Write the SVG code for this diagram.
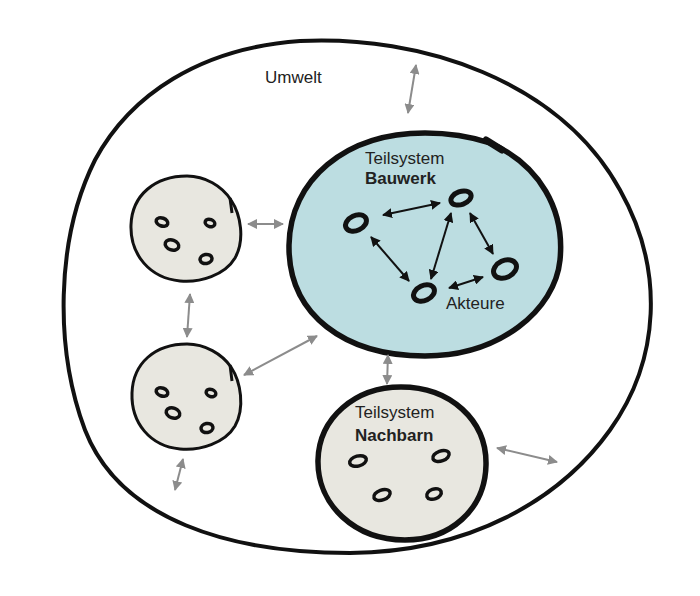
<svg xmlns="http://www.w3.org/2000/svg" width="700" height="596" viewBox="0 0 700 596">
<defs>
<marker id="ga" viewBox="0 0 10 10" refX="9" refY="5" markerWidth="5" markerHeight="5" orient="auto-start-reverse"><path d="M0,0 L10,5 L0,10 z" fill="#8c8c8c"/></marker>
<marker id="ba" viewBox="0 0 10 10" refX="9" refY="5" markerWidth="5" markerHeight="5" orient="auto-start-reverse"><path d="M0,0 L10,5 L0,10 z" fill="#111"/></marker>
</defs>
<style>
.outline{fill:none;stroke:#111;stroke-width:4;stroke-linecap:round}
.sub{fill:#e8e7e0;stroke:#111;stroke-width:3}
.bau{fill:#bcdde1;stroke:#111;stroke-width:5.5}
.nach{fill:#e8e7e0;stroke:#111;stroke-width:5.5}
.g{stroke:#8c8c8c;stroke-width:2;fill:none;marker-start:url(#ga);marker-end:url(#ga)}
.b{stroke:#111;stroke-width:2;fill:none;marker-start:url(#ba);marker-end:url(#ba)}
.ov{fill:none;stroke:#111;stroke-width:5}
.ovs{fill:none;stroke:#111;stroke-width:3.5}
text{font-family:"Liberation Sans",Arial,sans-serif;font-size:17px;fill:#222}
.bold{font-weight:bold}
</style>
<rect width="700" height="596" fill="#fff"/>
<g id="umwelt">
<path class="outline" d="M300,41 C420,35 560,80 620,190 C665,270 660,360 610,430 C560,500 470,552 350,553 C230,553 120,520 85,430 C55,350 55,240 95,160 C130,95 200,48 300,41 Z"/>
<text x="265" y="83">Umwelt</text>
</g>
<g id="bauwerk">
<path class="bau" d="M490,143 C540,165 565,210 560,260 C555,310 500,356 425,356 C345,356 288,315 289,245 C290,180 345,133 425,133 C450,133 472,137 490,143"/>
<path d="M486,140 L502,150" stroke="#111" stroke-width="7" stroke-linecap="round"/>
<text x="365" y="164">Teilsystem</text>
<text x="365" y="184" class="bold">Bauwerk</text>
<text x="446" y="309">Akteure</text>
<ellipse class="ov" cx="356" cy="223" rx="11" ry="7.5" transform="rotate(-25 356 223)"/>
<ellipse class="ov" cx="461" cy="198" rx="10.5" ry="6.5" transform="rotate(-20 461 198)"/>
<ellipse class="ov" cx="505" cy="269" rx="12" ry="8.5" transform="rotate(-25 505 269)"/>
<ellipse class="ov" cx="424" cy="293" rx="11" ry="7.5" transform="rotate(-25 424 293)"/>
</g>
<g id="sub1">
<path class="sub" d="M231,200 C241,215 245,240 235,258 C225,275 200,283 180,281 C150,278 130,255 131,225 C132,195 155,176 187,176 C205,176 222,186 231,200"/>
<path d="M230,198 L232,213" stroke="#111" stroke-width="3"/>
<ellipse class="ovs" cx="162" cy="222" rx="6" ry="4" transform="rotate(20 162 222)"/>
<ellipse class="ovs" cx="210" cy="223" rx="5" ry="3.5" transform="rotate(20 210 223)"/>
<ellipse class="ovs" cx="172" cy="245" rx="7" ry="5" transform="rotate(20 172 245)"/>
<ellipse class="ovs" cx="206" cy="259" rx="6" ry="4.5" transform="rotate(-10 206 259)"/>
</g>
<g id="sub2">
<path class="sub" d="M231,367 C241,382 245,408 235,426 C225,443 200,451 180,449 C150,446 131,423 132,393 C133,363 155,344 187,344 C205,344 222,354 231,367"/>
<path d="M230,365 L232,381" stroke="#111" stroke-width="3"/>
<ellipse class="ovs" cx="162" cy="392" rx="6" ry="4" transform="rotate(20 162 392)"/>
<ellipse class="ovs" cx="211" cy="393" rx="5" ry="3.5" transform="rotate(20 211 393)"/>
<ellipse class="ovs" cx="173" cy="413" rx="7" ry="5" transform="rotate(20 173 413)"/>
<ellipse class="ovs" cx="207" cy="428" rx="6" ry="4.5" transform="rotate(-10 207 428)"/>
</g>
<g id="nachbarn">
<path class="nach" d="M401,387 C450,387 487,420 486,465 C485,510 450,540 405,540 C355,540 317,505 318,460 C319,418 355,387 401,387 Z"/>
<text x="355" y="418">Teilsystem</text>
<text x="355" y="441" class="bold">Nachbarn</text>
<ellipse class="ovs" cx="358" cy="461" rx="8.5" ry="5" transform="rotate(-15 358 461)"/>
<ellipse class="ovs" cx="441" cy="456" rx="8.5" ry="5" transform="rotate(-20 441 456)"/>
<ellipse class="ovs" cx="382" cy="495" rx="8.5" ry="5" transform="rotate(-20 382 495)"/>
<ellipse class="ovs" cx="434" cy="494" rx="7.5" ry="5" transform="rotate(-20 434 494)"/>
</g>
<g id="connectors">
<line class="g" x1="416" y1="65" x2="408" y2="113"/>
<line class="g" x1="248" y1="224" x2="283" y2="224"/>
<line class="g" x1="190" y1="294" x2="187" y2="337"/>
<line class="g" x1="244" y1="375" x2="317" y2="336"/>
<line class="g" x1="183" y1="459" x2="175" y2="490"/>
<line class="g" x1="388" y1="355" x2="387" y2="384"/>
<line class="g" x1="497" y1="448" x2="557" y2="462"/>
<line class="b" x1="383" y1="215" x2="440" y2="203"/>
<line class="b" x1="371" y1="237" x2="409" y2="281"/>
<line class="b" x1="451" y1="213" x2="431" y2="279"/>
<line class="b" x1="470" y1="213" x2="493" y2="254"/>
<line class="b" x1="449" y1="288" x2="483" y2="277"/>
</g>
</svg>
